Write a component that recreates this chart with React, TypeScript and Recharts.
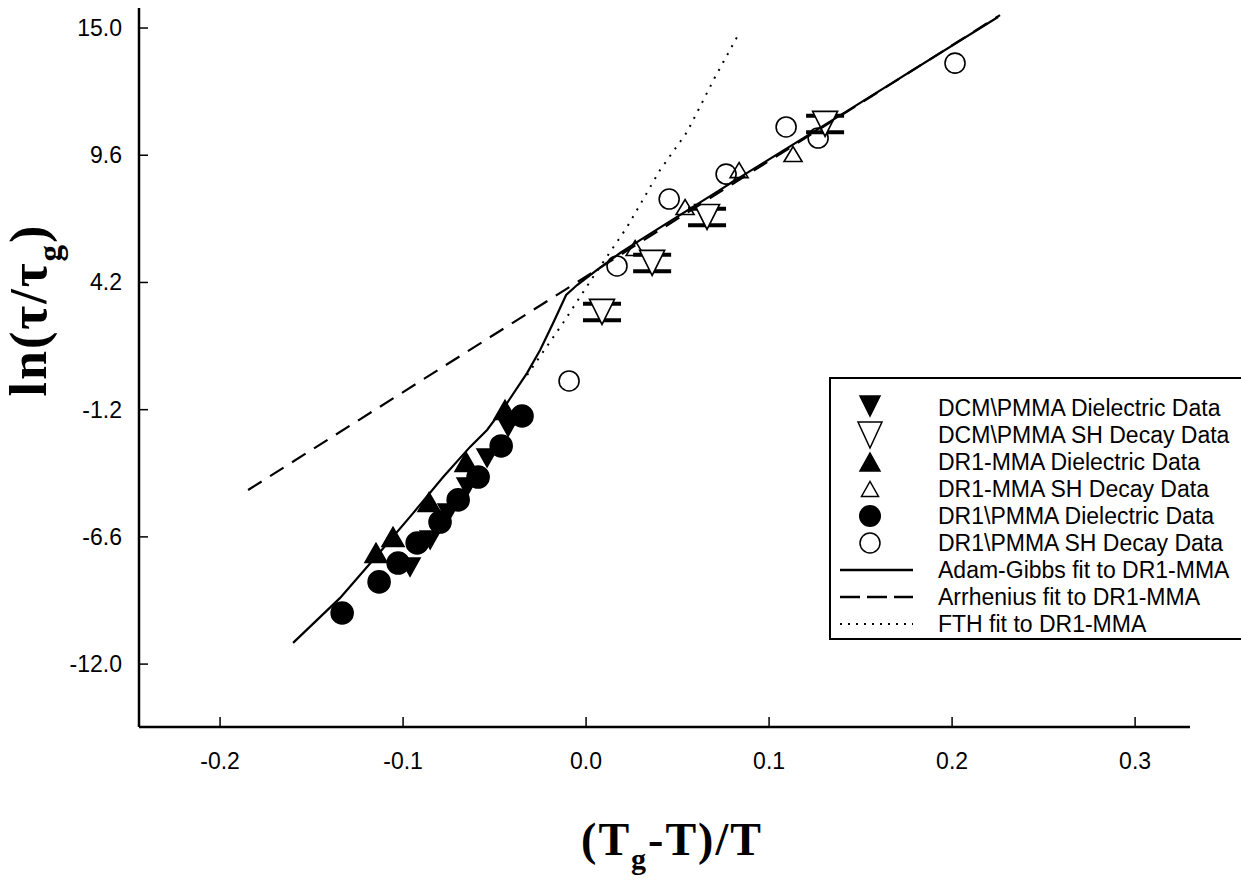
import React from 'react';
import { ScatterChart, Scatter, XAxis, YAxis, ErrorBar } from 'recharts';

// measured values (x = (Tg-T)/T, y = ln(tau/tau_g))
const dcmDielectric = [
  { x: -0.0962, y: -7.88 },
  { x: -0.0852, y: -6.73 },
  { x: -0.0754, y: -5.59 },
  { x: -0.065, y: -4.48 },
  { x: -0.0541, y: -3.25 },
  { x: -0.0426, y: -1.94 },
];

const dcmShDecay = [
  { x: 0.0087, y: 2.95, err: 0.35 },
  { x: 0.0361, y: 5.03, err: 0.35 },
  { x: 0.0661, y: 6.98, err: 0.35 },
  { x: 0.1306, y: 10.93, err: 0.35 },
];

const mmaDielectric = [
  { x: -0.1148, y: -7.28 },
  { x: -0.1055, y: -6.6 },
  { x: -0.0858, y: -5.12 },
  { x: -0.0656, y: -3.42 },
  { x: -0.0443, y: -1.21 },
];

const mmaShDecay = [
  { x: 0.0268, y: 5.66 },
  { x: 0.0541, y: 7.4 },
  { x: 0.0836, y: 8.97 },
  { x: 0.1131, y: 9.65 },
];

const dr1Dielectric = [
  { x: -0.1333, y: -9.83 },
  { x: -0.1131, y: -8.51 },
  { x: -0.1027, y: -7.71 },
  { x: -0.0923, y: -6.86 },
  { x: -0.0798, y: -5.97 },
  { x: -0.0699, y: -5.03 },
  { x: -0.059, y: -4.06 },
  { x: -0.0464, y: -2.74 },
  { x: -0.035, y: -1.47 },
];

const dr1ShDecay = [
  { x: -0.0093, y: 0.02 },
  { x: 0.0169, y: 4.9 },
  { x: 0.0454, y: 7.74 },
  { x: 0.0765, y: 8.8 },
  { x: 0.1093, y: 10.8 },
  { x: 0.1268, y: 10.33 },
  { x: 0.2016, y: 13.51 },
];

const adamGibbsFit = [
  { x: -0.1601, y: -11.1 },
  { x: -0.1344, y: -9.19 },
  { x: -0.1126, y: -7.24 },
  { x: -0.0945, y: -5.59 },
  { x: -0.0781, y: -4.06 },
  { x: -0.0634, y: -2.78 },
  { x: -0.0541, y: -2.06 },
  { x: -0.0432, y: -0.92 },
  { x: -0.0322, y: 0.36 },
  { x: -0.0251, y: 1.33 },
  { x: -0.018, y: 2.48 },
  { x: -0.0109, y: 3.67 },
  { x: -0.0049, y: 4.09 },
  { x: 0.006, y: 4.73 },
  { x: 0.0186, y: 5.45 },
  { x: 0.0295, y: 6.0 },
  { x: 0.088, y: 8.85 },
  { x: 0.1443, y: 11.56 },
  { x: 0.2251, y: 15.47 },
];

const arrheniusFit = [
  { x: -0.1847, y: -4.61 },
  { x: 0.2262, y: 15.55 },
];

const fthFit = [
  { x: -0.0322, y: 0.27 },
  { x: -0.0126, y: 2.48 },
  { x: 0.0038, y: 4.43 },
  { x: 0.0224, y: 6.55 },
  { x: 0.0404, y: 8.97 },
  { x: 0.0552, y: 10.59 },
  { x: 0.0705, y: 12.92 },
  { x: 0.0825, y: 14.62 },
];

const X_TICKS = [-0.2, -0.1, 0.0, 0.1, 0.2, 0.3];
const Y_TICKS = [-12.0, -6.6, -1.2, 4.2, 9.6, 15.0];

const LEGEND_ITEMS = [
  { name: 'DCM\\PMMA Dielectric Data', kind: 'fdown' },
  { name: 'DCM\\PMMA SH Decay Data', kind: 'odown' },
  { name: 'DR1-MMA Dielectric Data', kind: 'fup' },
  { name: 'DR1-MMA SH Decay Data', kind: 'oup' },
  { name: 'DR1\\PMMA Dielectric Data', kind: 'fcirc' },
  { name: 'DR1\\PMMA SH Decay Data', kind: 'ocirc' },
  { name: 'Adam-Gibbs fit to DR1-MMA', kind: 'solid' },
  { name: 'Arrhenius fit to DR1-MMA', kind: 'dashed' },
  { name: 'FTH fit to DR1-MMA', kind: 'dotted' },
];

const SANS = '"Liberation Sans", Arial, sans-serif';
const SERIF = '"Liberation Serif", "Times New Roman", serif';

const triPath = (cx: number, cy: number, w: number, h: number, up: boolean) =>
  up
    ? `M${cx - w / 2},${cy + h / 2}L${cx + w / 2},${cy + h / 2}L${cx},${cy - h / 2}Z`
    : `M${cx - w / 2},${cy - h / 2}L${cx + w / 2},${cy - h / 2}L${cx},${cy + h / 2}Z`;

const triangle = (w: number, h: number, up: boolean, fill: string) => (p: any) => {
  if (p.cx == null || p.cy == null) return <g />;
  return <path d={triPath(p.cx, p.cy, w, h, up)} fill={fill} stroke="#000" strokeWidth={1.6} />;
};

const circle = (r: number, fill: string) => (p: any) => {
  if (p.cx == null || p.cy == null) return <g />;
  return <circle cx={p.cx} cy={p.cy} r={r} fill={fill} stroke="#000" strokeWidth={1.6} />;
};

const noShape = () => <g />;

const XTick = (props: any) => {
  const { x, y, payload } = props;
  return (
    <g>
      <line x1={x} x2={x} y1={y - 26} y2={y - 36} stroke="#000" strokeWidth={1.5} />
      <text x={x} y={y} dy={16} textAnchor="middle" fontSize={23} fontFamily={SANS} fill="#000">
        {Number(payload.value).toFixed(1)}
      </text>
    </g>
  );
};

const YTick = (props: any) => {
  const { x, y, payload } = props;
  return (
    <g>
      <line x1={x + 17} x2={x + 26} y1={y} y2={y} stroke="#000" strokeWidth={1.5} />
      <text x={x} y={y} dy={8} textAnchor="end" fontSize={23} fontFamily={SANS} fill="#000">
        {Number(payload.value).toFixed(1)}
      </text>
    </g>
  );
};

const XTitle = () => (
  <text x={672} y={855} textAnchor="middle" fontSize={46} fontWeight="bold" fontFamily={SERIF} fill="#000" letterSpacing={2}>
    (T<tspan fontSize={30} dy={14}>g</tspan>
    <tspan dy={-14}>-T)/T</tspan>
  </text>
);

const YTitle = () => (
  <text transform="translate(46,310) rotate(-90)" textAnchor="middle" fontSize={52} fontWeight="bold" fontFamily={SERIF} fill="#000" letterSpacing={2}>
    ln(τ/τ<tspan fontSize={33} dy={15}>g</tspan>
    <tspan dy={-15}>)</tspan>
  </text>
);

function LegendSymbol({ kind, cy }: { kind: string; cy: number }) {
  const cx = 39;
  switch (kind) {
    case 'fdown':
      return <path d={triPath(cx, cy - 2, 20, 20, false)} fill="#000" stroke="#000" strokeWidth={1.5} />;
    case 'odown':
      return <path d={triPath(cx, cy, 24, 26, false)} fill="#fff" stroke="#000" strokeWidth={1.5} />;
    case 'fup':
      return <path d={triPath(cx, cy, 20, 18, true)} fill="#000" stroke="#000" strokeWidth={1.5} />;
    case 'oup':
      return <path d={triPath(cx, cy, 17, 15, true)} fill="#fff" stroke="#000" strokeWidth={1.5} />;
    case 'fcirc':
      return <circle cx={cx} cy={cy} r={11} fill="#000" />;
    case 'ocirc':
      return <circle cx={cx} cy={cy} r={10} fill="#fff" stroke="#000" strokeWidth={1.5} />;
    case 'solid':
      return <line x1={9} x2={82} y1={cy} y2={cy} stroke="#000" strokeWidth={2.5} />;
    case 'dashed':
      return <line x1={9} x2={82} y1={cy} y2={cy} stroke="#000" strokeWidth={2.5} strokeDasharray="20 7" />;
    default:
      return <line x1={9} x2={82} y1={cy} y2={cy} stroke="#000" strokeWidth={2} strokeDasharray="2 6" />;
  }
}

function ChartLegend() {
  return (
    <div
      style={{
        position: 'absolute',
        left: 829,
        top: 377,
        width: 412,
        height: 263,
        borderTop: '2px solid #000',
        borderLeft: '2px solid #000',
        borderBottom: '2px solid #000',
        boxSizing: 'border-box',
        background: '#fff',
      }}
    >
      <svg width={410} height={261} style={{ position: 'absolute', left: 0, top: 0 }}>
        {LEGEND_ITEMS.map((item, i) => {
          const cy = 29 + i * 27;
          return (
            <g key={item.name}>
              <LegendSymbol kind={item.kind} cy={cy} />
              <text x={107} y={cy} dy={8} fontSize={23} fontFamily={SANS} fill="#000">
                {item.name}
              </text>
            </g>
          );
        })}
      </svg>
    </div>
  );
}

export default function App() {
  return (
    <div style={{ position: 'absolute', left: 0, top: 0, width: 1241, height: 888, background: '#fff' }}>
      <ScatterChart width={1241} height={888} margin={{ top: 8, right: 51, bottom: 0, left: 0 }}>
        <XAxis
          type="number"
          dataKey="x"
          domain={[-0.2443, 0.33]}
          ticks={X_TICKS}
          allowDataOverflow
          height={161}
          tickSize={0}
          tickMargin={26}
          tickLine={false}
          axisLine={{ stroke: '#000', strokeWidth: 2.5 }}
          tick={(p: any) => <XTick {...p} />}
          label={{ content: () => <XTitle /> }}
        />
        <YAxis
          type="number"
          dataKey="y"
          domain={[-14.67, 15.85]}
          ticks={Y_TICKS}
          allowDataOverflow
          width={139}
          tickSize={0}
          tickMargin={17}
          tickLine={false}
          axisLine={{ stroke: '#000', strokeWidth: 2.5 }}
          tick={(p: any) => <YTick {...p} />}
          label={{ content: () => <YTitle /> }}
        />
        <Scatter name="DR1\PMMA Dielectric Data" data={dr1Dielectric} shape={circle(11, '#000')} isAnimationActive={false} />
        <Scatter name="DCM\PMMA Dielectric Data" data={dcmDielectric} shape={triangle(20, 18, false, '#000')} isAnimationActive={false} />
        <Scatter name="DR1-MMA Dielectric Data" data={mmaDielectric} shape={triangle(22, 19, true, '#000')} isAnimationActive={false} />
        <Scatter name="DR1\PMMA SH Decay Data" data={dr1ShDecay} shape={circle(10, 'none')} isAnimationActive={false} />
        <Scatter name="DR1-MMA SH Decay Data" data={mmaShDecay} shape={triangle(18, 15, true, 'none')} isAnimationActive={false} />
        <Scatter name="DCM\PMMA SH Decay Data" data={dcmShDecay} shape={triangle(25, 25, false, '#fff')} isAnimationActive={false}>
          <ErrorBar dataKey="err" direction="y" width={19} strokeWidth={4} stroke="#000" />
        </Scatter>
        <Scatter name="Adam-Gibbs fit" data={adamGibbsFit} line={{ stroke: '#000', strokeWidth: 2.2 }} shape={noShape} isAnimationActive={false} />
        <Scatter name="Arrhenius fit" data={arrheniusFit} line={{ stroke: '#000', strokeWidth: 2.2, strokeDasharray: '16 10' }} shape={noShape} isAnimationActive={false} />
        <Scatter name="FTH fit" data={fthFit} line={{ stroke: '#000', strokeWidth: 2, strokeDasharray: '2 7' }} shape={noShape} isAnimationActive={false} />
      </ScatterChart>
      <ChartLegend />
    </div>
  );
}
